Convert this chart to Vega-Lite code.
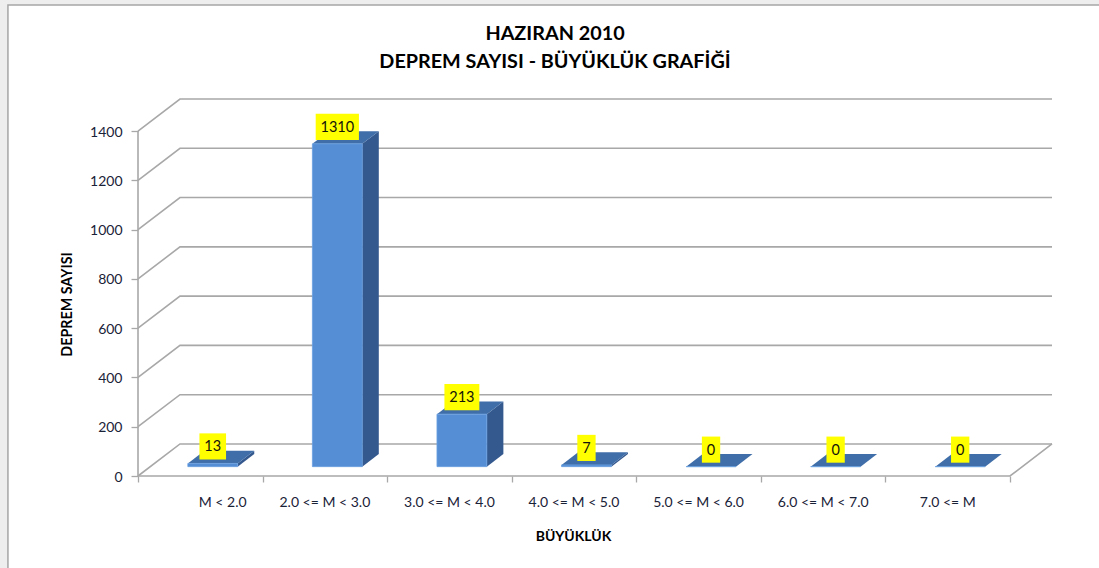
{
"$schema":"https://vega.github.io/schema/vega-lite/v6.json",
"width":914,"height":377,
"autosize":{"type":"none"},
"padding":{"left":138,"top":99,"right":47,"bottom":92},
"background":"#eeeeee",
"view":{"stroke":null},
"config":{"font":"Lato"},
"title":{"text":["HAZIRAN 2010","DEPREM SAYISI - BÜYÜKLÜK GRAFİĞİ"],"font":"Lato","fontSize":19.8,"fontWeight":"bold","color":"#000000","lineHeight":28,"dx":-40,"dy":67,"offset":0,"anchor":"middle"},
"datasets":{
"bars":[
{"i":0,"category":"M < 2.0","count":13},
{"i":1,"category":"2.0 <= M < 3.0","count":1310},
{"i":2,"category":"3.0 <= M < 4.0","count":213},
{"i":3,"category":"4.0 <= M < 5.0","count":7},
{"i":4,"category":"5.0 <= M < 6.0","count":0},
{"i":5,"category":"6.0 <= M < 7.0","count":0},
{"i":6,"category":"7.0 <= M","count":0}],
"ticks":[{"v":0},{"v":200},{"v":400},{"v":600},{"v":800},{"v":1000},{"v":1200},{"v":1400}]
},
"encoding":{},
"layer":[
{"mark":{"type":"rect","fill":"#ffffff","stroke":"#a6a6a6","strokeWidth":1.5,"clip":false},
"data":{"values":[{"a":1}]},
"encoding":{
"x":{"datum":-1.044,"type":"quantitative","scale":{"domain":[0,7.337],"nice":false,"zero":false},"axis":{"zindex":1,"title":"BÜYÜKLÜK","values":[0,1,2,3,4,5,6,7],"labels":false,"domain":false,"grid":false,"ticks":true,"tickColor":"#a8a8a8","tickSize":6,"tickWidth":1.3,"titleFont":"Lato","titleFontSize":14,"titleFontWeight":"bold","titleColor":"#000000","titleX":435,"titleY":60,"titleBaseline":"middle","titleAnchor":"middle"}},
"x2":{"datum":8},
"y":{"datum":1911,"type":"quantitative","scale":{"domain":[0,1530],"nice":false,"zero":false},"axis":{"zindex":1,"title":"DEPREM SAYISI","values":[0,200,400,600,800,1000,1200,1400],"format":"d","domain":false,"grid":false,"tickColor":"#a8a8a8","tickSize":7,"tickWidth":1.3,"labelFont":"Lato","labelFontSize":14,"labelColor":"#1a2238","labelPadding":9,"labelOffset":1,"titleFont":"Lato","titleFontSize":14.3,"titleFontWeight":"bold","titleColor":"#000000","titleX":-71,"titleY":205,"titleAngle":-90,"titleBaseline":"middle","titleAnchor":"middle"}},
"y2":{"datum":-500}}},
{"mark":{"type":"line","color":"#a8a8a8","strokeWidth":1.6,"clip":false},
"data":{"name":"ticks"},
"transform":[
{"calculate":"[0,0.337,7.337]","as":"gx"},
{"calculate":"[datum.v,datum.v+130,datum.v+130]","as":"gy"},
{"calculate":"[0,1,2]","as":"ord"},
{"flatten":["gx","gy","ord"]}],
"encoding":{
"x":{"field":"gx","type":"quantitative"},
"y":{"field":"gy","type":"quantitative"},
"order":{"field":"ord"},
"detail":{"field":"v"}}},
{"mark":{"type":"line","color":"#a8a8a8","strokeWidth":1.6,"clip":false},
"data":{"values":[{"px":0,"py":1400,"o":0},{"px":0,"py":0,"o":1},{"px":7,"py":0,"o":2},{"px":7.337,"py":130,"o":3}]},
"encoding":{
"x":{"field":"px","type":"quantitative"},
"y":{"field":"py","type":"quantitative"},
"order":{"field":"o"}}},
{"mark":{"type":"text","font":"Lato","fontSize":14,"color":"#1a2238","baseline":"middle","clip":false},
"data":{"name":"bars"},
"transform":[{"calculate":"datum.i+0.5+(datum.i==0?0.18:0)","as":"lx"},{"calculate":"-110","as":"ly"}],
"encoding":{
"x":{"field":"lx","type":"quantitative"},
"y":{"field":"ly","type":"quantitative"},
"text":{"field":"category"}}},
{"mark":{"type":"area","color":"#34598f","clip":false},
"data":{"name":"bars"},
"transform":[
{"calculate":"[datum.i+0.8,datum.i+0.933]","as":"sx"},
{"calculate":"[datum.count+38,datum.count+89]","as":"st"},
{"calculate":"[38,89]","as":"sb"},
{"flatten":["sx","st","sb"]}],
"encoding":{
"x":{"field":"sx","type":"quantitative"},
"y":{"field":"st","type":"quantitative"},
"y2":{"field":"sb"},
"detail":{"field":"category"}}},
{"mark":{"type":"area","orient":"horizontal","color":"#3f6ea8","clip":false},
"data":{"name":"bars"},
"transform":[
{"calculate":"[datum.i+0.4,datum.i+0.533]","as":"tx"},
{"calculate":"[datum.i+0.8,datum.i+0.933]","as":"tx2"},
{"calculate":"[datum.count+38,datum.count+89]","as":"ty"},
{"flatten":["tx","tx2","ty"]}],
"encoding":{
"y":{"field":"ty","type":"quantitative"},
"x":{"field":"tx","type":"quantitative"},
"x2":{"field":"tx2"},
"detail":{"field":"category"}}},
{"mark":{"type":"rect","fill":"#558ed5","stroke":"#6a9fe0","strokeWidth":0.8,"clip":false},
"data":{"name":"bars"},
"transform":[
{"calculate":"datum.i+0.4","as":"xl"},{"calculate":"datum.i+0.8","as":"xr"},
{"calculate":"datum.count+38","as":"top"},{"calculate":"38","as":"base"}],
"encoding":{
"x":{"field":"xl","type":"quantitative"},"x2":{"field":"xr"},
"y":{"field":"top","type":"quantitative"},"y2":{"field":"base"}}},
{"mark":{"type":"rect","fill":"#ffff00","clip":false},
"data":{"name":"bars"},
"transform":[
{"calculate":"(8.3*length(toString(datum.count))+10)/249","as":"hw"},
{"calculate":"datum.i+0.6-datum.hw","as":"bx"},{"calculate":"datum.i+0.6+datum.hw","as":"bx2"},
{"calculate":"datum.count+38+69-53","as":"by"},{"calculate":"datum.count+38+69+53","as":"by2"}],
"encoding":{
"x":{"field":"bx","type":"quantitative"},"x2":{"field":"bx2"},
"y":{"field":"by","type":"quantitative"},"y2":{"field":"by2"}}},
{"mark":{"type":"text","font":"Lato","fontSize":14.5,"color":"#14140a","baseline":"middle","dy":1,"clip":false},
"data":{"name":"bars"},
"transform":[
{"calculate":"datum.i+0.6","as":"cx"},{"calculate":"datum.count+38+69","as":"cy"}],
"encoding":{
"x":{"field":"cx","type":"quantitative"},
"y":{"field":"cy","type":"quantitative"},
"text":{"field":"count","type":"quantitative"}}}
]
}
